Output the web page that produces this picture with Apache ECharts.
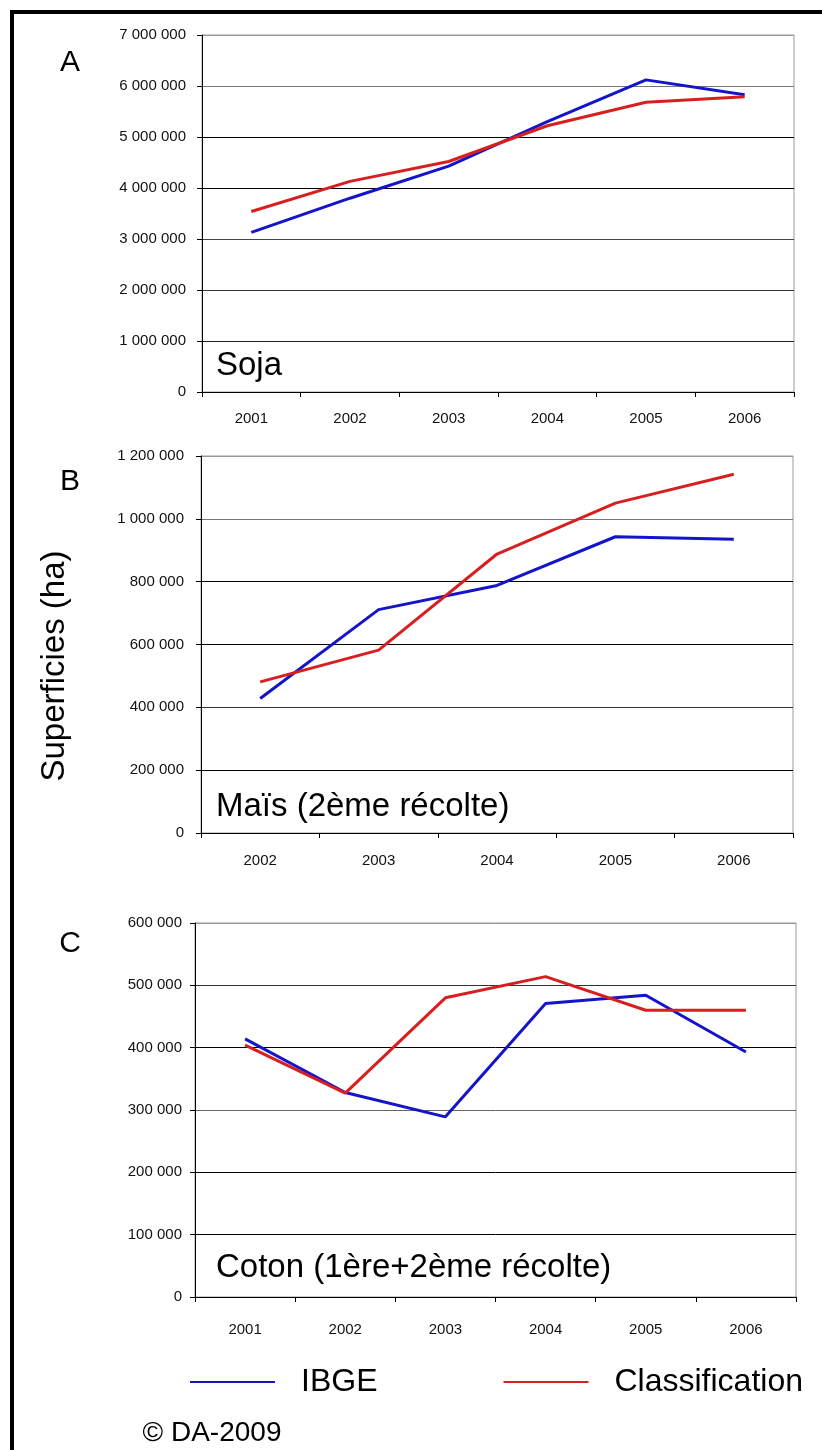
<!DOCTYPE html>
<html>
<head>
<meta charset="utf-8">
<title>Superficies (ha)</title>
<script src="https://cdn.jsdelivr.net/npm/echarts@6/dist/echarts.min.js"></script>
<style>
  html, body { margin: 0; padding: 0; background: #fff; overflow: hidden; }
  #chart { width: 822px; height: 1450px; }
  /* cadre noir (seuls les bords gauche et haut sont visibles) */
  #frame { position: absolute; left: 10px; top: 10px; width: 820px; height: 1450px;
    border-left: 4px solid #000; border-top: 4px solid #000; pointer-events: none; }
</style>
</head>
<body>
<div id="chart"></div>
<div id="frame"></div>
<script>
// années par panneau
const yearsSoja = ['2001', '2002', '2003', '2004', '2005', '2006']
const yearsMais = ['2002', '2003', '2004', '2005', '2006']
const yearsCoton = ['2001', '2002', '2003', '2004', '2005', '2006']

// superficies (ha)
const sojaIbge = [3130000, 3800000, 4430000, 5300000, 6120000, 5830000]
const sojaClassif = [3540000, 4130000, 4520000, 5220000, 5680000, 5790000]
const maisIbge = [428000, 711000, 788000, 943000, 935000]
const maisClassif = [481000, 582000, 888000, 1050000, 1142000]
const cotonIbge = [414000, 328000, 289000, 471000, 484000, 393000]
const cotonClassif = [404000, 327000, 480000, 514000, 460000, 460000]

const panelLetters = ['A', 'B', 'C']
const cropNames = ['Soja', 'Maïs (2ème récolte)', 'Coton (1ère+2ème récolte)']
const yMax = [7000000, 1200000, 600000]
const yStep = [1000000, 200000, 100000]
const seriesNames = ['IBGE', 'Classification']

const BLUE = '#1414c8'
const RED = '#d81f1f'
const FONT = 'Liberation Sans, Arial, sans-serif'

// position de chaque panneau
const panels = [
  { years: yearsSoja, ibge: sojaIbge, classif: sojaClassif, left: 202, right: 28, top: 35, height: 357,
    yMargin: 16, xMargin: 19, letterY: 63, nameY: 366,
    gridColors: ['#000', '#222', '#333', '#444', '#000', '#000', '#777', '#999'] },
  { years: yearsMais, ibge: maisIbge, classif: maisClassif, left: 201, right: 29, top: 456, height: 377,
    yMargin: 17, xMargin: 20, letterY: 482, nameY: 807,
    gridColors: ['#000', '#000', '#333', '#000', '#000', '#777', '#999'] },
  { years: yearsCoton, ibge: cotonIbge, classif: cotonClassif, left: 195, right: 26, top: 923, height: 374,
    yMargin: 13, xMargin: 25, letterY: 944, nameY: 1268,
    gridColors: ['#000', '#000', '#000', '#666', '#000', '#333', '#999'] }
]

function spaced(value) {
  return String(value).replace(/\B(?=(\d{3})+(?!\d))/g, ' ')
}

let grid = []
let xAxis = []
let yAxis = []
let series = []
let graphic = []

panels.forEach(function (p, i) {
  grid.push({
    left: p.left, right: p.right, top: p.top, height: p.height,
    show: true, borderColor: '#9a9a9a', borderWidth: 1
  })
  xAxis.push({
    type: 'category', gridIndex: i, data: p.years, boundaryGap: true,
    axisLine: { lineStyle: { color: '#000', width: 1 } },
    axisTick: { show: true, length: 5, lineStyle: { color: '#000' } },
    axisLabel: { color: '#111', fontFamily: FONT, fontSize: 15, margin: p.xMargin },
    splitLine: { show: false }
  })
  yAxis.push({
    type: 'value', gridIndex: i, min: 0, max: yMax[i], interval: yStep[i],
    axisLine: { show: true, lineStyle: { color: '#000', width: 1 } },
    axisTick: { show: true, length: 5, lineStyle: { color: '#000' } },
    axisLabel: { color: '#111', fontFamily: FONT, fontSize: 15, margin: p.yMargin, formatter: spaced },
    splitLine: { show: true, lineStyle: { color: p.gridColors, width: 1 } }
  })
  series.push({
    name: seriesNames[0], type: 'line', xAxisIndex: i, yAxisIndex: i, data: p.ibge,
    symbol: 'none', color: BLUE, lineStyle: { color: BLUE, width: 3 }, itemStyle: { color: BLUE }, z: 3
  })
  series.push({
    name: seriesNames[1], type: 'line', xAxisIndex: i, yAxisIndex: i, data: p.classif,
    symbol: 'none', color: RED, lineStyle: { color: RED, width: 3 }, itemStyle: { color: RED }, z: 4
  })
  // lettre du panneau
  graphic.push({
    type: 'text', x: 70, y: p.letterY,
    style: { text: panelLetters[i], font: '30px ' + FONT, fill: '#000',
      textAlign: 'center', align: 'center', textVerticalAlign: 'middle', verticalAlign: 'middle' }
  })
  // nom de la culture, dans le graphe
  graphic.push({
    type: 'text', x: 216, y: p.nameY, z: 10,
    style: { text: cropNames[i], font: '33px ' + FONT, fill: '#000',
      textAlign: 'left', align: 'left', textVerticalAlign: 'middle', verticalAlign: 'middle' }
  })
})

// titre vertical commun
graphic.push({
  type: 'text', x: 55, y: 666, rotation: Math.PI / 2,
  style: { text: 'Superficies (ha)', font: '33px ' + FONT, fill: '#000',
    textAlign: 'center', align: 'center', textVerticalAlign: 'middle', verticalAlign: 'middle' }
})
graphic.push({
  type: 'text', x: 212, y: 1433,
  style: { text: '© DA-2009', font: '28px ' + FONT, fill: '#000',
    textAlign: 'center', align: 'center', textVerticalAlign: 'middle', verticalAlign: 'middle' }
})

const chart = echarts.init(document.getElementById('chart'), null, { renderer: 'canvas' })
chart.setOption({
  animation: false,
  backgroundColor: '#fff',
  grid: grid,
  xAxis: xAxis,
  yAxis: yAxis,
  series: series,
  graphic: graphic,
  legend: {
    data: seriesNames, left: 190, top: 1366, padding: 0,
    icon: 'rect', itemWidth: 85, itemHeight: 2, itemGap: 126,
    selectedMode: false,
    textStyle: { fontFamily: FONT, fontSize: 32, color: '#000', padding: [0, 0, 0, 21] }
  }
})
</script>
</body>
</html>
